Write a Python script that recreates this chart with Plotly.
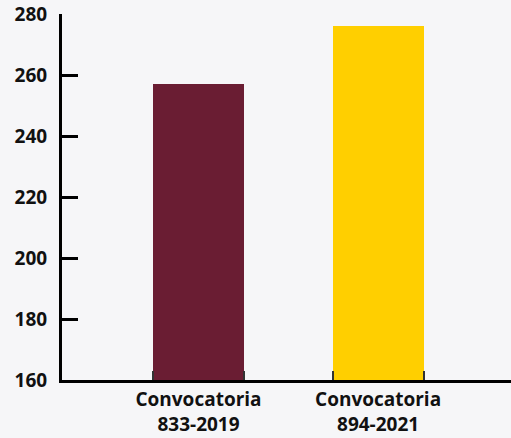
import plotly.graph_objects as go

# --- Data ---
categories = ["Convocatoria<br>833-2019", "Convocatoria<br>894-2021"]
values = [257, 276]
bar_colors = ["#6a1d33", "#ffcf00"]
y_ticks = [160, 180, 200, 220, 240, 260, 280]

bar_width = 0.506
x_range = [-0.76, 1.74]

fig = go.Figure()

fig.add_trace(go.Bar(
    x=categories,
    y=values,
    marker=dict(color=bar_colors, line=dict(width=0)),
    width=bar_width,
    showlegend=False,
    hoverinfo="skip",
))

# small tick marks at the bar edges (numeric overlay axis, no labels)
edges = []
for i in range(len(categories)):
    edges += [i - bar_width / 2, i + bar_width / 2]

fig.update_layout(
    width=511,
    height=438,
    margin=dict(l=62, r=0, t=14, b=58),
    paper_bgcolor="#f6f6f8",
    plot_bgcolor="#f6f6f8",
    font=dict(family="Open Sans", color="#111111"),
    bargap=0,
    xaxis2=dict(
        overlaying="x",
        side="bottom",
        range=x_range,
        tickvals=edges,
        ticks="inside",
        ticklen=9,
        tickwidth=2,
        tickcolor="#333333",
        showticklabels=False,
        showgrid=False,
        zeroline=False,
        showline=False,
    ),
)

# invisible helper trace so xaxis2 is drawn
fig.add_trace(go.Scatter(
    x=[edges[0]], y=[y_ticks[0]], xaxis="x2", mode="markers",
    marker=dict(opacity=0), showlegend=False, hoverinfo="skip",
))

fig.update_xaxes(
    selector=dict(anchor="y"),
)

fig.update_layout(xaxis=dict(
    range=x_range,
    showline=True,
    linecolor="black",
    linewidth=3,
    ticks="",
    showgrid=False,
    tickfont=dict(size=19, family="Open Sans", weight="bold"),
))

fig.update_yaxes(
    range=[160, 280],
    tickvals=y_ticks,
    showline=True,
    linecolor="black",
    linewidth=3,
    ticks="inside",
    ticklen=16,
    tickwidth=3,
    tickcolor="black",
    showgrid=False,
    zeroline=False,
    ticklabelstandoff=8,
    tickfont=dict(size=19, family="Open Sans", weight="bold"),
)

# page body has a default 8px margin; drop it so the figure sits at 0,0
fig.write_html("out.html", config={"displayModeBar": False},
               post_script="document.body.style.margin='0';")
